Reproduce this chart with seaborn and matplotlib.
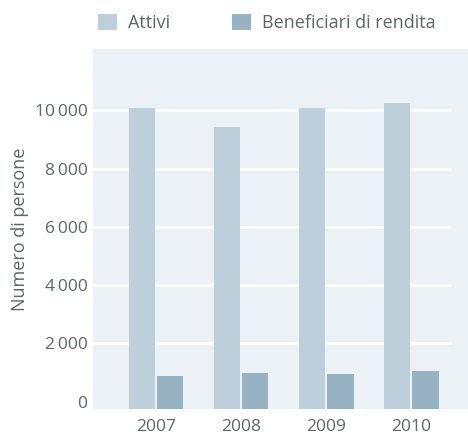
import matplotlib
matplotlib.use("Agg")
import matplotlib.pyplot as plt
import seaborn as sns
import pandas as pd
from matplotlib.patches import Patch

years = ["2007", "2008", "2009", "2010"]
attivi = [10075, 9425, 10075, 10250]
beneficiari = [885, 985, 950, 1055]
series_names = ["Attivi", "Beneficiari di rendita"]
y_ticks = [0, 2000, 4000, 6000, 8000, 10000]
y_label = "Numero di persone"

colors = ["#bdcfdb", "#97b2c3"]
text_color = "#5d6767"
panel_color = "#ecf1f5"

df = pd.DataFrame({
    "year": years * 2,
    "value": attivi + beneficiari,
    "serie": [series_names[0]] * 4 + [series_names[1]] * 4,
})

sns.set_theme(style="white")
plt.rcParams["font.family"] = ["Open Sans", "DejaVu Sans"]

fig = plt.figure(figsize=(4.68, 4.36), dpi=100)
ax = fig.add_axes([93 / 468, 1 - 409 / 436, (468 - 93) / 468, (409 - 49) / 436])
ax.set_facecolor(panel_color)

sns.barplot(data=df, x="year", y="value", hue="serie", palette=colors,
            width=0.67, gap=0.07, ax=ax, legend=False, zorder=3,
            saturation=1, errorbar=None)

baseline = -250
for p in ax.patches:
    h = p.get_height()
    p.set_y(baseline)
    p.set_height(h - baseline)
    p.set_edgecolor("none")

ax.set_ylim(baseline, 12100)
ax.set_xlim(-0.741, 3.67)

for t in y_ticks[1:]:
    ax.axhline(t, xmin=0, xmax=(450 - 93) / (468 - 93), color="white", lw=2, zorder=1)

ax.set_yticks(y_ticks)
ax.set_yticklabels([f"{v:,}".replace(",", "\u2009") for v in y_ticks])
ax.tick_params(axis="y", length=0, pad=4, labelsize=12.5, labelcolor=text_color)
ax.tick_params(axis="x", length=0, pad=7, labelsize=12.5, labelcolor=text_color)
ax.set_xlabel("")
ax.set_ylabel(y_label, fontsize=13, color=text_color, labelpad=4)
for s in ax.spines.values():
    s.set_visible(False)

handles = [Patch(facecolor=c, edgecolor="none") for c in colors]
fig.legend(handles, series_names, loc="center left", bbox_to_anchor=(98 / 468, 1 - 23 / 436),
           ncol=2, frameon=False, fontsize=13, labelcolor=text_color,
           handlelength=1.05, handleheight=1.05, handletextpad=0.6,
           columnspacing=3.45, borderaxespad=0, borderpad=0)

fig.savefig("out.png", dpi=100)
